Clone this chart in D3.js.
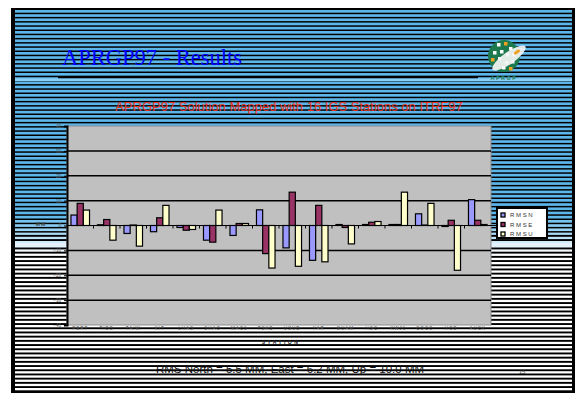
<!DOCTYPE html>
<html>
<head>
<meta charset="utf-8">
<script src="https://cdn.jsdelivr.net/npm/d3@7"></script>
<style>
  html, body { margin: 0; padding: 0; background: #fff; }
  svg { display: block; }
</style>
</head>
<body>
<svg id="slide" width="577" height="394"></svg>
<script>
// Station names along the category axis
const stations = ["PERT","TIDB","TAIW","KIT","LHAS","SHAO","MAC1","TSKB","USUD","YAR","GUAM","IISC","KWJ1","COCO","HOB","AUCK"];
// Coordinate residuals per station (mm)
const rmsN = [4.2, 0.3, -3.2, -2.5, -0.8, -5.9, -4.0, 6.3, -9.0, -14.0, 0.4, 0.4, 0.4, 4.7, -0.4, 10.4];
const rmsE = [8.9, 2.4, 0.2, 3.1, -1.9, -6.7, 0.8, -11.3, 13.4, 8.1, -0.8, 1.3, 0.4, 0.2, 2.1, 2.1];
const rmsU = [6.2, -5.9, -8.3, 8.1, -1.6, 6.2, 0.8, -17.1, -16.4, -14.6, -7.4, 1.6, 13.4, 8.9, -18.0, 0.4];
const seriesNames = ["R M S  N", "R M S  E", "R M S  U"];
const seriesColors = ["#9999ff", "#993366", "#ffffcc"];
const yTicks = [40, 30, 20, 10, 0, -10, -20, -30, -40];

const svg = d3.select("#slide");

// ---- slide background: framed, horizontally striped ----
svg.append("rect").attr("x", 11).attr("y", 8).attr("width", 564).attr("height", 385).attr("fill", "#000");
const bgTop = 10, bgBottom = 391, bgLeft = 15, bgRight = 572;
const stripeColor = y => {
  if (y < 214) return "#5cb6ea";
  if (y > 252) return "#ffffff";
  return d3.interpolateRgb("#5cb6ea", "#ffffff")((y - 214) / 38);
};
const period = 4.2;
for (let i = 0; bgTop + i * period < bgBottom; i++) {
  const y0 = bgTop + i * period;
  const bandH = y0 < 230 ? 2.7 : 2.3;
  svg.append("rect")
    .attr("x", bgLeft).attr("y", y0)
    .attr("width", bgRight - bgLeft).attr("height", Math.min(bandH, bgBottom - y0))
    .attr("fill", stripeColor(y0));
}
// light bands across the slide
svg.append("rect").attr("x", bgLeft).attr("y", 78.5).attr("width", bgRight - bgLeft).attr("height", 2.5).attr("fill", "#8ccff5");
svg.append("rect").attr("x", bgLeft).attr("y", 243).attr("width", bgRight - bgLeft).attr("height", 4).attr("fill", "#e4f1fb");

// ---- title ----
svg.append("text")
  .attr("x", 62).attr("y", 65)
  .attr("font-family", "Liberation Serif, Times New Roman, serif")
  .attr("font-size", 22.5).attr("fill", "#0000ff")
  .text("APRGP97 - Results");
svg.append("line").attr("x1", 58).attr("x2", 478).attr("y1", 77.5).attr("y2", 77.5)
  .attr("stroke", "#000").attr("stroke-width", 1.5);

// ---- logo ----
const logo = svg.append("g").attr("transform", "translate(504,56)");
logo.append("circle").attr("r", 16).attr("fill", "#1d7a4f");
const cells = [[-7,-13,"#fff"],[0,-14,"#f0a020"],[5,-9,"#fff"],[-11,-5,"#fff"],[-4,-6,"#fff"],[2,-3,"#fff"],[8,-3,"#fff"],
               [-13,2,"#f0a020"],[-6,1,"#fff"],[1,5,"#fff"],[7,4,"#fff"],[-2,10,"#fff"],[5,11,"#f0a020"]];
logo.selectAll("rect.cell").data(cells).join("rect")
  .attr("class", "cell")
  .attr("x", d => d[0]).attr("y", d => d[1]).attr("width", 3.5).attr("height", 3.5).attr("fill", d => d[2]);
logo.append("ellipse").attr("cx", 5).attr("cy", 2).attr("rx", 20).attr("ry", 6)
  .attr("transform", "rotate(-35 5 2)").attr("fill", "#f4f4f4").attr("opacity", 0.92);
logo.append("ellipse").attr("cx", 13).attr("cy", -4).attr("rx", 3.5).attr("ry", 1.6)
  .attr("transform", "rotate(-35 13 -4)").attr("fill", "#f0a020");
logo.append("text").attr("x", 0).attr("y", 24).attr("text-anchor", "middle")
  .attr("font-family", "Liberation Sans, Arial, sans-serif").attr("font-size", 5.5).attr("font-weight", "bold")
  .attr("fill", "#1d7a4f").attr("letter-spacing", 1.5).text("APRGP");

// ---- chart subtitle ----
svg.append("text")
  .attr("x", 289).attr("y", 110.5).attr("text-anchor", "middle")
  .attr("font-family", "Liberation Sans, Arial, sans-serif")
  .attr("font-size", 13).attr("fill", "#e8321e")
  .text("APRGP97 Solution Mapped with 16 IGS Stations on ITRF97");

// ---- chart ----
const plot = { left: 67, right: 491, top: 126, bottom: 325 };
const y = d3.scaleLinear().domain([-40, 40]).range([plot.bottom, plot.top]);
const x0 = d3.scaleBand().domain(stations).range([plot.left, plot.right]).paddingInner(0.3).paddingOuter(0.15);
const x1 = d3.scaleBand().domain([0, 1, 2]).range([0, x0.bandwidth()]);
const bandStep = (plot.right - plot.left) / stations.length;

svg.append("rect")
  .attr("x", plot.left).attr("y", plot.top)
  .attr("width", plot.right - plot.left).attr("height", plot.bottom - plot.top)
  .attr("fill", "#c0c0c0").attr("stroke", "#8a8a8a").attr("stroke-width", 1);

// gridlines
svg.append("g").selectAll("line").data(yTicks.filter(t => t !== 0 && Math.abs(t) !== 40)).join("line")
  .attr("x1", plot.left).attr("x2", plot.right)
  .attr("y1", d => y(d)).attr("y2", d => y(d))
  .attr("stroke", "#000").attr("stroke-width", 1.5);

// value axis
const yAxis = svg.append("g").attr("transform", `translate(${plot.left},0)`)
  .call(d3.axisLeft(y).tickValues(yTicks).tickSize(3).tickPadding(3));
yAxis.select(".domain").attr("stroke", "#000").attr("stroke-width", 2);
yAxis.selectAll("text").attr("font-family", "Liberation Sans, Arial, sans-serif")
  .attr("font-size", 4.5).attr("fill", "#555");
svg.append("text").attr("x", 41).attr("y", 226).attr("text-anchor", "middle")
  .attr("font-family", "Liberation Sans, Arial, sans-serif").attr("font-size", 5)
  .attr("font-weight", "bold").attr("fill", "#444").attr("letter-spacing", 1).text("MM");

// bars
const series = [rmsN, rmsE, rmsU];
const groups = svg.append("g").selectAll("g").data(stations).join("g")
  .attr("transform", d => `translate(${x0(d)},0)`);
groups.selectAll("rect").data((d, i) => series.map((s, k) => ({ k, v: s[i] }))).join("rect")
  .attr("x", d => x1(d.k))
  .attr("y", d => y(Math.max(0, d.v)))
  .attr("width", x1.bandwidth())
  .attr("height", d => Math.abs(y(d.v) - y(0)))
  .attr("fill", d => seriesColors[d.k])
  .attr("stroke", "#000").attr("stroke-width", 1.2);

// category axis along zero
svg.append("line").attr("x1", plot.left).attr("x2", plot.right + 6).attr("y1", y(0)).attr("y2", y(0))
  .attr("stroke", "#000").attr("stroke-width", 1);
svg.append("g").selectAll("line").data(d3.range(1, stations.length)).join("line")
  .attr("x1", i => plot.left + i * bandStep).attr("x2", i => plot.left + i * bandStep)
  .attr("y1", y(0)).attr("y2", y(0) + 3)
  .attr("stroke", "#000").attr("stroke-width", 1);

// station labels below the plot
svg.append("g").selectAll("text").data(stations).join("text")
  .attr("x", d => x0(d) + x0.bandwidth() / 2).attr("y", plot.bottom + 5)
  .attr("text-anchor", "middle")
  .attr("font-family", "Liberation Sans, Arial, sans-serif").attr("font-size", 4.5)
  .attr("fill", "#555").attr("letter-spacing", 1).text(d => d);
svg.append("text").attr("x", 281).attr("y", 344).attr("text-anchor", "middle")
  .attr("font-family", "Liberation Sans, Arial, sans-serif").attr("font-size", 5)
  .attr("font-weight", "bold").attr("fill", "#222").attr("letter-spacing", 2.5).text("STATION");

// legend
const legend = svg.append("g").attr("transform", "translate(497,208)");
legend.append("rect").attr("width", 50).attr("height", 30).attr("fill", "#fff")
  .attr("stroke", "#000").attr("stroke-width", 2);
const li = legend.selectAll("g").data(seriesNames).join("g")
  .attr("transform", (d, i) => `translate(0,${7 + i * 9.5})`);
li.append("rect").attr("x", 4).attr("y", -2).attr("width", 4).attr("height", 4)
  .attr("fill", (d, i) => seriesColors[i]).attr("stroke", "#000").attr("stroke-width", 1.3);
li.append("text").attr("x", 13).attr("y", 2)
  .attr("font-family", "Liberation Sans, Arial, sans-serif").attr("font-size", 6)
  .attr("fill", "#333").text(d => d);

// summary line and slide number
svg.append("text").attr("x", 290).attr("y", 373).attr("text-anchor", "middle")
  .attr("font-family", "Liberation Sans, Arial, sans-serif").attr("font-size", 11.5)
  .attr("fill", "#111").text("RMS North = 5.5 MM, East = 6.2 MM, Up = 10.0 MM");
svg.append("text").attr("x", 522).attr("y", 374).attr("text-anchor", "middle")
  .attr("font-family", "Liberation Sans, Arial, sans-serif").attr("font-size", 6)
  .attr("fill", "#333").text("15");
</script>
</body>
</html>
